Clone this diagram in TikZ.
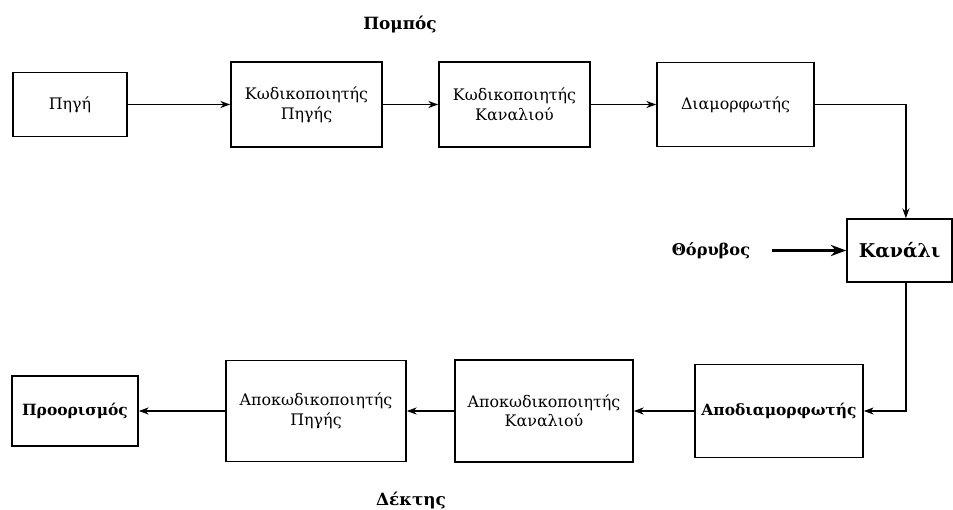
\documentclass[tikz,border=0pt]{standalone}
\usepackage{fontspec}
\setmainfont{DejaVu Serif}
\usetikzlibrary{arrows.meta}
\tikzset{
  blk/.style={draw,line width=1.1pt,inner sep=0pt,align=center,font=\fontsize{11.3}{14}\selectfont},
  arr/.style={line width=1.1pt,-{Stealth[length=7pt,width=5pt]}},
  bigarr/.style={line width=1.6pt,-{Stealth[length=11pt,width=8pt]}},
  ttl/.style={font=\fontsize{12}{14}\selectfont\bfseries}
}
\begin{document}
\begin{tikzpicture}[x=0.025cm,y=-0.025cm]
\useasboundingbox (0,0) rectangle (953,510);
\node[blk,minimum width=2.85cm,minimum height=1.6cm] (src) at (70,104.5) {Πηγή};
\node[blk,minimum width=3.775cm,minimum height=2.125cm] (srcenc) at (306.5,104.5) {Κωδικοποιητής\\Πηγής};
\node[blk,minimum width=3.775cm,minimum height=2.125cm] (chenc) at (514.5,104.5) {Κωδικοποιητής\\Καναλιού};
\node[blk,minimum width=3.925cm,minimum height=2.1cm] (mod) at (735.5,104.5) {Διαμορφωτής};
\node[blk,minimum width=2.625cm,minimum height=1.575cm,font=\fontsize{13.5}{16}\selectfont\bfseries] (chan) at (899.5,250.5) {Κανάλι};
\node[blk,minimum width=4.2cm,minimum height=2.325cm,font=\fontsize{11}{14}\selectfont\bfseries] (demod) at (779,411) {Αποδιαμορφωτής};
\node[blk,minimum width=4.45cm,minimum height=2.55cm] (chdec) at (544,411) {Αποκωδικοποιητής\\Καναλιού};
\node[blk,minimum width=4.5cm,minimum height=2.525cm] (srcdec) at (316,411) {Αποκωδικοποιητής\\Πηγής};
\node[blk,minimum width=3.15cm,minimum height=1.75cm,font=\fontsize{11}{14}\selectfont\bfseries] (dest) at (75,411) {Προορισμός};
\node[ttl,font=\fontsize{11.5}{14}\selectfont\bfseries] (noise) at (711,251) {Θόρυβος};
\node[ttl] (tx) at (400,25) {Πομπός};
\node[ttl] (rx) at (411,501) {Δέκτης};
\coordinate (nz) at (772,250.5);
\coordinate (ctop) at ([xshift=0.16cm]chan.north);
\coordinate (cbot) at ([xshift=0.16cm]chan.south);
\draw[arr] (src) -- (srcenc);
\draw[arr] (srcenc) -- (chenc);
\draw[arr] (chenc) -- (mod);
\draw[arr] (mod.east) -| (ctop);
\draw[bigarr] (nz) -- (chan.west);
\draw[arr] (cbot) |- (demod.east);
\draw[arr] (demod) -- (chdec);
\draw[arr] (chdec) -- (srcdec);
\draw[arr] (srcdec) -- (dest);
\end{tikzpicture}
\end{document}
